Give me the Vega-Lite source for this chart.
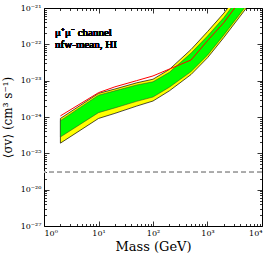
{
  "$schema": "https://vega.github.io/schema/vega-lite/v6.json",
  "autosize": "none",
  "width": 218,
  "height": 218,
  "padding": {"left": 44, "top": 8, "right": 12, "bottom": 31},
  "config": {
    "font": "DejaVu Serif",
    "view": {"stroke": "black", "strokeWidth": 1},
    "axis": {"grid": false, "domain": false, "labelFont": "DejaVu Serif", "titleFont": "DejaVu Serif", "titleFontWeight": "normal", "labelColor": "black", "titleColor": "black", "tickColor": "black", "tickWidth": 0.8}
  },
  "datasets": {
    "bands": [
      {"m": 2, "ylo": 1.905e-25, "glo": 2.818e-25, "ghi": 7.943e-25, "yhi": 9.12e-25, "obs": 1.072e-24},
      {"m": 10, "ylo": 9.12e-25, "glo": 1.318e-24, "ghi": 3.981e-24, "yhi": 4.467e-24, "obs": 4.677e-24},
      {"m": 20, "ylo": 1.259e-24, "glo": 1.778e-24, "ghi": 5.248e-24, "yhi": 5.888e-24, "obs": 6.761e-24},
      {"m": 50, "ylo": 1.995e-24, "glo": 2.692e-24, "ghi": 7.586e-24, "yhi": 8.71e-24, "obs": 1.0e-23},
      {"m": 100, "ylo": 2.754e-24, "glo": 3.548e-24, "ghi": 9.333e-24, "yhi": 1.096e-23, "obs": 1.35e-23},
      {"m": 200, "ylo": 5.248e-24, "glo": 6.607e-24, "ghi": 1.698e-23, "yhi": 2.042e-23, "obs": 2.089e-23},
      {"m": 500, "ylo": 1.479e-23, "glo": 1.778e-23, "ghi": 5.754e-23, "yhi": 7.244e-23, "obs": 3.715e-23},
      {"m": 1000, "ylo": 4.266e-23, "glo": 5.012e-23, "ghi": 1.698e-22, "yhi": 2.239e-22, "obs": 1.259e-22},
      {"m": 2000, "ylo": 1.549e-22, "glo": 1.82e-22, "ghi": 5.495e-22, "yhi": 7.244e-22, "obs": 3.981e-22},
      {"m": 5000, "ylo": 9.333e-22, "glo": 1.096e-21, "ghi": 3.388e-21, "yhi": 4.467e-21, "obs": 2.512e-21},
      {"m": 10000, "ylo": 3.981e-21, "glo": 4.677e-21, "ghi": 1.202e-20, "yhi": 1.585e-20, "obs": 1.0e-20}
    ]
  },
  "data": {"name": "bands"},
  "resolve": {"axis": {"x": "independent", "y": "independent"}},
  "layer": [
    {
      "mark": {"type": "area", "color": "#ffff00", "stroke": "black", "strokeWidth": 0.7, "clip": true},
      "encoding": {
        "x": {"field": "m", "type": "quantitative", "scale": {"type": "log", "domain": [1, 10000]},
          "axis": {"orient": "bottom", "title": "Mass (GeV)", "titleFontSize": 13, "titlePadding": 3, "labelFontSize": 8, "labelPadding": 8,
            "values": [1,2,3,4,5,6,7,8,9,10,20,30,40,50,60,70,80,90,100,200,300,400,500,600,700,800,900,1000,2000,3000,4000,5000,6000,7000,8000,9000,10000],
            "labelExpr": "abs(log(datum.value)/LN10 - round(log(datum.value)/LN10)) < 1e-6 ? ['10⁰','10¹','10²','10³','10⁴'][round(log(datum.value)/LN10)] : ''",
            "tickSize": {"condition": {"test": "abs(log(datum.value)/LN10 - round(log(datum.value)/LN10)) < 1e-6", "value": -5}, "value": -2.5}}},
        "y": {"field": "ylo", "type": "quantitative", "scale": {"type": "log", "domain": [1e-27, 1e-21]},
          "axis": {"orient": "left", "title": "⟨σv⟩ (cm³ s⁻¹)", "titleFontSize": 12, "titlePadding": 6, "labelFontSize": 8, "labelPadding": 8,
            "values": [1e-27,2e-27,3e-27,4e-27,5e-27,6e-27,7e-27,8e-27,9e-27,1e-26,2e-26,3e-26,4e-26,5e-26,6e-26,7e-26,8e-26,9e-26,1e-25,2e-25,3e-25,4e-25,5e-25,6e-25,7e-25,8e-25,9e-25,1e-24,2e-24,3e-24,4e-24,5e-24,6e-24,7e-24,8e-24,9e-24,1e-23,2e-23,3e-23,4e-23,5e-23,6e-23,7e-23,8e-23,9e-23,1e-22,2e-22,3e-22,4e-22,5e-22,6e-22,7e-22,8e-22,9e-22,1e-21],
            "labelExpr": "abs(log(datum.value)/LN10 - round(log(datum.value)/LN10)) < 1e-6 ? ['10⁻²⁷','10⁻²⁶','10⁻²⁵','10⁻²⁴','10⁻²³','10⁻²²','10⁻²¹'][round(log(datum.value)/LN10)+27] : ''",
            "tickSize": {"condition": {"test": "abs(log(datum.value)/LN10 - round(log(datum.value)/LN10)) < 1e-6", "value": -5}, "value": -2.5}}},
        "y2": {"field": "yhi"}
      }
    },
    {
      "mark": {"type": "area", "color": "#00ff00", "stroke": "#333333", "strokeWidth": 0.5, "clip": true},
      "encoding": {
        "x": {"field": "m", "type": "quantitative", "axis": null},
        "y": {"field": "glo", "type": "quantitative", "axis": null},
        "y2": {"field": "ghi"}
      }
    },
    {
      "mark": {"type": "line", "color": "#ff0000", "strokeWidth": 1, "clip": true},
      "encoding": {
        "x": {"field": "m", "type": "quantitative", "axis": null},
        "y": {"field": "obs", "type": "quantitative", "axis": null}
      }
    },
    {
      "mark": {"type": "rule", "color": "#aaaaaa", "strokeWidth": 1.2, "strokeDash": [5, 3]},
      "encoding": {
        "y": {"datum": 3e-26, "type": "quantitative", "axis": null}
      }
    },
    {
      "mark": {"type": "text", "align": "left", "baseline": "middle", "fontSize": 11, "fontWeight": 400, "lineHeight": 12, "lineBreak": "\n", "font": "Liberation Serif", "fill": "#000000", "strokeWidth": 0},
      "encoding": {
        "x": {"datum": 1.6, "type": "quantitative", "axis": null},
        "y": {"datum": 2.0e-22, "type": "quantitative", "axis": null},
        "text": {"value": "μ⁺μ⁻  channel\nnfw-mean, HI"}
      }
    },
    {
      "mark": {"type": "point", "opacity": 0},
      "encoding": {
        "x": {"field": "m", "type": "quantitative",
          "axis": {"orient": "top", "title": null, "labels": false,
            "values": [1,2,3,4,5,6,7,8,9,10,20,30,40,50,60,70,80,90,100,200,300,400,500,600,700,800,900,1000,2000,3000,4000,5000,6000,7000,8000,9000,10000],
            "tickSize": {"condition": {"test": "abs(log(datum.value)/LN10 - round(log(datum.value)/LN10)) < 1e-6", "value": -5}, "value": -2.5}}},
        "y": {"field": "ylo", "type": "quantitative",
          "axis": {"orient": "right", "title": null, "labels": false,
            "values": [1e-27,2e-27,3e-27,4e-27,5e-27,6e-27,7e-27,8e-27,9e-27,1e-26,2e-26,3e-26,4e-26,5e-26,6e-26,7e-26,8e-26,9e-26,1e-25,2e-25,3e-25,4e-25,5e-25,6e-25,7e-25,8e-25,9e-25,1e-24,2e-24,3e-24,4e-24,5e-24,6e-24,7e-24,8e-24,9e-24,1e-23,2e-23,3e-23,4e-23,5e-23,6e-23,7e-23,8e-23,9e-23,1e-22,2e-22,3e-22,4e-22,5e-22,6e-22,7e-22,8e-22,9e-22,1e-21],
            "tickSize": {"condition": {"test": "abs(log(datum.value)/LN10 - round(log(datum.value)/LN10)) < 1e-6", "value": -5}, "value": -2.5}}}
      }
    }
  ]
}
